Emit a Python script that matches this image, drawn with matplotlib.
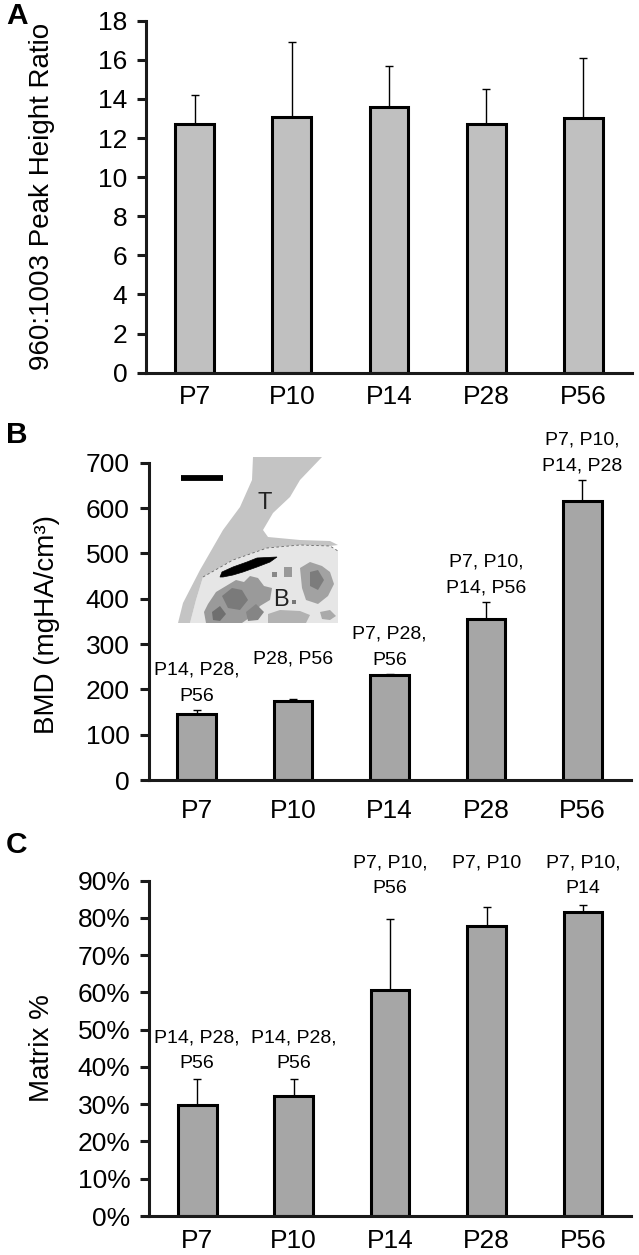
import numpy as np
import matplotlib
matplotlib.use("Agg")
import matplotlib.pyplot as plt
from matplotlib.patches import Polygon
from matplotlib.ticker import PercentFormatter
import matplotlib.transforms as mtransforms

plt.rcParams['font.family'] = ['Liberation Sans', 'DejaVu Sans']

# ---------------- data ----------------
groups = ["P7", "P10", "P14", "P28", "P56"]

ratio_mean = [12.7, 13.1, 13.6, 12.7, 13.0]
ratio_err = [1.5, 3.8, 2.1, 1.8, 3.1]

bmd_mean = [146, 175, 231, 355, 616]
bmd_err = [8, 4, 2, 38, 46]
bmd_labels = ["P14, P28,\nP56", "P28, P56\n", "P7, P28,\nP56",
              "P7, P10,\nP14, P56", "P7, P10,\nP14, P28"]

matrix_mean = [0.297, 0.322, 0.605, 0.779, 0.815]
matrix_err = [0.070, 0.045, 0.192, 0.051, 0.020]
matrix_labels = ["P14, P28,\nP56", "P14, P28,\nP56", "P7, P10,\nP56",
                 "P7, P10", "P7, P10,\nP14"]

W, H = 639, 1255
fig = plt.figure(figsize=(W / 100, H / 100), dpi=100)

AX_COL = '#1a1a1a'
TICK_FS = 19
LAB_FS = 20
ANN_FS = 14
ANN_LS = 1.7


def px_axes(left, top, right, bottom):
    return fig.add_axes([left / W, 1 - bottom / H, (right - left) / W, (bottom - top) / H])


def style(ax, xpad):
    for s in ('top', 'right'):
        ax.spines[s].set_visible(False)
    for s in ('left', 'bottom'):
        ax.spines[s].set_linewidth(2.2)
        ax.spines[s].set_color(AX_COL)
    ax.tick_params(axis='y', direction='out', length=6.5, width=2.2, color=AX_COL,
                   labelsize=TICK_FS, pad=7)
    ax.tick_params(axis='x', length=0, labelsize=TICK_FS, pad=xpad)
    ax.set_xlim(-0.5, len(groups) - 0.5)


def bars(ax, mean, err, color):
    x = np.arange(len(groups))
    ax.bar(x, mean, width=0.4, color=color, edgecolor='black', linewidth=2.2, zorder=2)
    ax.errorbar(x, mean, yerr=[np.zeros(len(err)), err], fmt='none', ecolor='black',
                elinewidth=1.0, capsize=3, capthick=1.0, zorder=1)
    ax.set_xticks(x)
    ax.set_xticklabels(groups)


def ylabel_at(ax, text, xpx, yfrac=0.5):
    ax.set_ylabel(text, fontsize=LAB_FS)
    tr = mtransforms.blended_transform_factory(fig.transFigure, ax.transAxes)
    ax.yaxis.set_label_coords(xpx / W, yfrac, transform=tr)


# ---------------- Panel A ----------------
axA = px_axes(146, 20.7, 632, 372.7)
bars(axA, ratio_mean, ratio_err, '#c0c0c0')
axA.set_ylim(0, 18)
axA.set_yticks(np.arange(0, 19, 2))
style(axA, 9)
ylabel_at(axA, "960:1003 Peak Height Ratio", 55)

# ---------------- Panel B ----------------
axB = px_axes(148.5, 462.7, 630.7, 780)
bars(axB, bmd_mean, bmd_err, '#a6a6a6')
axB.set_ylim(0, 700)
axB.set_yticks(np.arange(0, 701, 100))
style(axB, 14)
ylabel_at(axB, "BMD (mgHA/cm³)", 60, 0.49)
for i, (m, e, lab) in enumerate(zip(bmd_mean, bmd_err, bmd_labels)):
    axB.annotate(lab, xy=(i, m + e), xytext=(0, 4), textcoords='offset points',
                 ha='center', va='bottom', fontsize=ANN_FS, linespacing=ANN_LS,
                 multialignment='center', annotation_clip=False)

# ---------------- Panel C ----------------
axC = px_axes(149, 880.5, 631.4, 1216)
bars(axC, matrix_mean, matrix_err, '#a6a6a6')
axC.set_ylim(0, 0.9)
axC.set_yticks(np.arange(0, 0.91, 0.1))
axC.yaxis.set_major_formatter(PercentFormatter(xmax=1, decimals=0))
style(axC, 9)
ylabel_at(axC, "Matrix %", 55)
for i, (m, e, lab) in enumerate(zip(matrix_mean, matrix_err, matrix_labels)):
    if m + e > 0.75:
        axC.annotate(lab, xy=(i, 1.0), xycoords=('data', 'axes fraction'),
                     xytext=(0, 19), textcoords='offset points', ha='center',
                     va='top', fontsize=ANN_FS, linespacing=ANN_LS,
                     multialignment='center', annotation_clip=False)
    else:
        axC.annotate(lab, xy=(i, m + e), xytext=(0, 5), textcoords='offset points',
                     ha='center', va='bottom', fontsize=ANN_FS, linespacing=ANN_LS,
                     multialignment='center', annotation_clip=False)

# ---------------- Panel letters ----------------
for letter, top in (("A", 2), ("B", 421), ("C", 831)):
    fig.text(6 / W, 1 - top / H, letter, fontsize=21.5, fontweight='bold',
             ha='left', va='top')

# ---------------- Inset micro-CT illustration (panel B) ----------------
ins = px_axes(176, 455, 342, 625)
ins.set_xlim(176, 342)
ins.set_ylim(625, 455)
ins.axis('off')
ins.patch.set_alpha(0)

bone = [(203, 577), (233, 560), (267, 548), (300, 545), (330, 546), (338, 551),
        (338, 623), (190, 623), (196, 600)]
ins.add_patch(Polygon(bone, closed=True, facecolor='#e6e6e6', edgecolor='none'))

tibia = [(253, 457), (322, 457), (300, 480), (290, 497), (273, 513), (263, 530),
         (268, 537), (300, 540), (330, 541), (338, 545), (330, 546), (300, 545),
         (267, 548), (233, 560), (203, 577), (196, 600), (190, 623), (178, 623),
         (183, 603), (200, 570), (223, 530), (240, 507), (252, 480)]
ins.add_patch(Polygon(tibia, closed=True, facecolor='#c4c4c4', edgecolor='none'))

blobs = [
    ([(208, 604), (216, 592), (226, 586), (236, 580), (244, 582), (250, 576),
      (258, 578), (264, 586), (272, 588), (270, 600), (260, 606), (252, 616),
      (242, 623), (206, 623), (204, 612)], '#9a9a9a'),
    ([(222, 596), (232, 588), (242, 590), (248, 600), (240, 610), (228, 608)], '#7a7a7a'),
    ([(212, 612), (220, 606), (226, 614), (220, 621), (213, 620)], '#6f6f6f'),
    ([(246, 612), (256, 604), (264, 612), (258, 620), (248, 621)], '#858585'),
    ([(300, 568), (310, 562), (322, 566), (330, 572), (334, 584), (328, 596),
      (318, 604), (306, 600), (302, 588)], '#a2a2a2'),
    ([(310, 572), (318, 570), (324, 580), (318, 590), (310, 586)], '#7c7c7c'),
    ([(268, 614), (280, 610), (300, 611), (310, 615), (306, 623), (268, 623)], '#b2b2b2'),
    ([(284, 567), (292, 567), (292, 577), (284, 577)], '#999999'),
    ([(272, 572), (277, 572), (277, 577), (272, 577)], '#888888'),
    ([(292, 600), (296, 600), (296, 604), (292, 604)], '#777777'),
    ([(320, 612), (330, 610), (336, 616), (330, 620), (322, 619)], '#aaaaaa'),
]
for pts, col in blobs:
    ins.add_patch(Polygon(pts, closed=True, facecolor=col, edgecolor='none'))

edge_x = [203, 233, 267, 300, 330, 338]
edge_y = [577, 560, 548, 545, 546, 551]
ins.plot(edge_x, edge_y, color='#666666', lw=0.6, ls=(0, (3, 3)))

streak = [(220, 577), (222, 572), (233, 567), (247, 562), (257, 558), (277, 557),
          (270, 562), (257, 567), (243, 572), (233, 575), (223, 577)]
ins.add_patch(Polygon(streak, closed=True, facecolor='black', edgecolor='black', lw=0.5))

ins.plot([181, 223], [478, 478], color='black', lw=4.2, solid_capstyle='butt')
ins.text(265, 503, "T", fontsize=17, ha='center', va='center', color='#222222')
ins.text(281, 600, "B", fontsize=17, ha='center', va='center', color='#222222')

fig.savefig("out.png", dpi=100)
